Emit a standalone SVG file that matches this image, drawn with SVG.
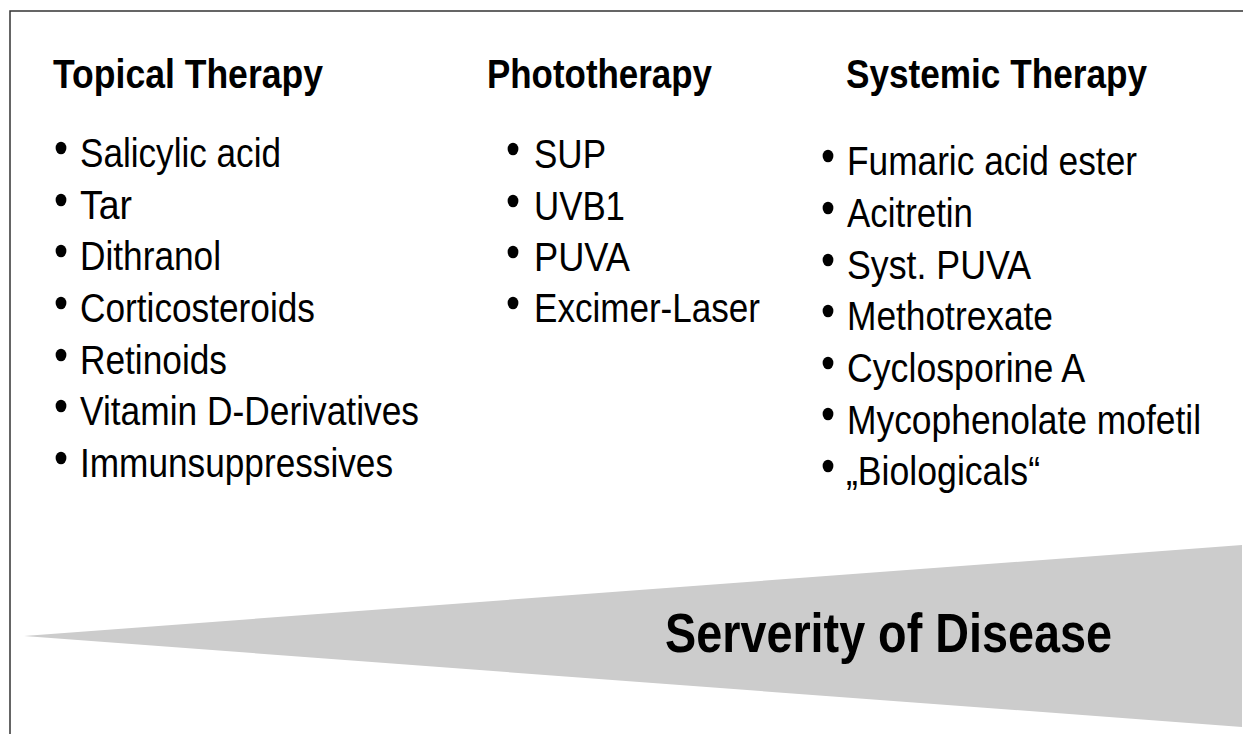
<svg xmlns="http://www.w3.org/2000/svg" width="1243" height="734" viewBox="0 0 1243 734">
<style>
  text { font-family: "Liberation Sans", Arial, sans-serif; fill: #000; }
  .head { font-size: 40px; font-weight: bold; }
  .item { font-size: 40px; }
  .big { font-size: 56px; font-weight: bold; }
  .frame { stroke: #333; stroke-width: 1.5; fill: none; }
  .bullet { fill: #000; }
</style>
<rect x="0" y="0" width="1243" height="734" fill="#fff"/>
<g id="frame">
  <path class="frame" d="M10,734 V11 H1243"/>
</g>
<g id="severity">
  <polygon points="24,636 1242,545 1242,727" fill="#cccccc"/>
  <text class="big" x="665" y="652" textLength="447" lengthAdjust="spacingAndGlyphs">Serverity of Disease</text>
</g>
<g id="topical">
  <text class="head" x="53" y="88" textLength="270" lengthAdjust="spacingAndGlyphs">Topical Therapy</text>
  <ellipse class="bullet" cx="61" cy="148" rx="5.4" ry="6.3"/>
  <ellipse class="bullet" cx="61" cy="200" rx="5.4" ry="6.3"/>
  <ellipse class="bullet" cx="61" cy="251" rx="5.4" ry="6.3"/>
  <ellipse class="bullet" cx="61" cy="303" rx="5.4" ry="6.3"/>
  <ellipse class="bullet" cx="61" cy="355" rx="5.4" ry="6.3"/>
  <ellipse class="bullet" cx="61" cy="406" rx="5.4" ry="6.3"/>
  <ellipse class="bullet" cx="61" cy="458" rx="5.4" ry="6.3"/>
  <text class="item" x="80" y="167" textLength="201" lengthAdjust="spacingAndGlyphs">Salicylic acid</text>
  <text class="item" x="80" y="219" textLength="52" lengthAdjust="spacingAndGlyphs">Tar</text>
  <text class="item" x="80" y="270" textLength="141" lengthAdjust="spacingAndGlyphs">Dithranol</text>
  <text class="item" x="80" y="322" textLength="235" lengthAdjust="spacingAndGlyphs">Corticosteroids</text>
  <text class="item" x="80" y="374" textLength="147" lengthAdjust="spacingAndGlyphs">Retinoids</text>
  <text class="item" x="80" y="425" textLength="339" lengthAdjust="spacingAndGlyphs">Vitamin D-Derivatives</text>
  <text class="item" x="80" y="477" textLength="313" lengthAdjust="spacingAndGlyphs">Immunsuppressives</text>
</g>
<g id="phototherapy">
  <text class="head" x="487" y="88" textLength="225" lengthAdjust="spacingAndGlyphs">Phototherapy</text>
  <ellipse class="bullet" cx="513" cy="149" rx="5.4" ry="6.3"/>
  <ellipse class="bullet" cx="513" cy="201" rx="5.4" ry="6.3"/>
  <ellipse class="bullet" cx="513" cy="252" rx="5.4" ry="6.3"/>
  <ellipse class="bullet" cx="513" cy="303" rx="5.4" ry="6.3"/>
  <text class="item" x="534" y="168" textLength="72" lengthAdjust="spacingAndGlyphs">SUP</text>
  <text class="item" x="534" y="220" textLength="91" lengthAdjust="spacingAndGlyphs">UVB1</text>
  <text class="item" x="534" y="271" textLength="96" lengthAdjust="spacingAndGlyphs">PUVA</text>
  <text class="item" x="534" y="322" textLength="226" lengthAdjust="spacingAndGlyphs">Excimer-Laser</text>
</g>
<g id="systemic">
  <text class="head" x="846" y="88" textLength="301" lengthAdjust="spacingAndGlyphs">Systemic Therapy</text>
  <ellipse class="bullet" cx="828" cy="156" rx="5.4" ry="6.3"/>
  <ellipse class="bullet" cx="828" cy="208" rx="5.4" ry="6.3"/>
  <ellipse class="bullet" cx="828" cy="260" rx="5.4" ry="6.3"/>
  <ellipse class="bullet" cx="828" cy="311" rx="5.4" ry="6.3"/>
  <ellipse class="bullet" cx="828" cy="363" rx="5.4" ry="6.3"/>
  <ellipse class="bullet" cx="828" cy="414" rx="5.4" ry="6.3"/>
  <ellipse class="bullet" cx="828" cy="466" rx="5.4" ry="6.3"/>
  <text class="item" x="847" y="175" textLength="290" lengthAdjust="spacingAndGlyphs">Fumaric acid ester</text>
  <text class="item" x="847" y="227" textLength="126" lengthAdjust="spacingAndGlyphs">Acitretin</text>
  <text class="item" x="847" y="279" textLength="184" lengthAdjust="spacingAndGlyphs">Syst. PUVA</text>
  <text class="item" x="847" y="330" textLength="206" lengthAdjust="spacingAndGlyphs">Methotrexate</text>
  <text class="item" x="847" y="382" textLength="238" lengthAdjust="spacingAndGlyphs">Cyclosporine A</text>
  <text class="item" x="847" y="434" textLength="354" lengthAdjust="spacingAndGlyphs">Mycophenolate mofetil</text>
  <text class="item" x="846" y="485" textLength="194" lengthAdjust="spacingAndGlyphs">„Biologicals“</text>
</g>
</svg>
